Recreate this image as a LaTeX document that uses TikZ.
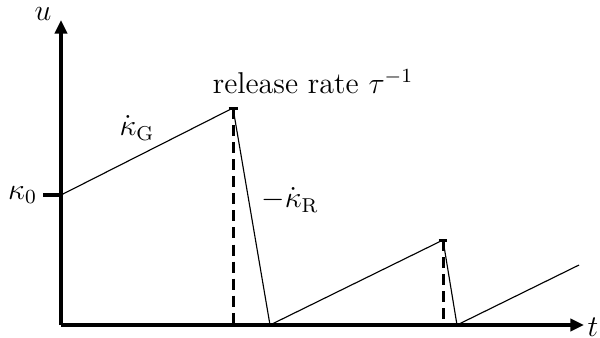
\documentclass[tikz,border=0pt]{standalone}
\usetikzlibrary{arrows.meta}
\begin{document}
\begin{tikzpicture}[x=0.014cm,y=-0.014cm,
  axis/.style={line width=1.6pt,-{Triangle[length=0.19cm,width=0.17cm]}},
  seg/.style={line width=0.45pt},
  guide/.style={line width=1.2pt,dash pattern=on 4.4pt off 2.4pt},
  tickbar/.style={line width=1.2pt},
  lab/.style={inner sep=1pt}]
\useasboundingbox (0,0) rectangle (600,337);
% points
\coordinate (O) at (61,325);
\coordinate (Ytop) at (61,20);
\coordinate (Xend) at (584,325);
\coordinate (K0) at (61,195);
\coordinate (K0l) at (43,195);
\coordinate (P1) at (233,108);
\coordinate (B1) at (233,325);
\coordinate (Q1) at (270,325);
\coordinate (P2) at (443,240);
\coordinate (B2) at (443,325);
\coordinate (Q2) at (457,325);
\coordinate (E) at (579,265);
% axes
\draw[axis] (O) -- (Ytop);
\draw[axis] (O) -- (Xend);
\node[lab] (u) at (43,14) {\large $u$};
\node[lab] (t) at (593,327) {\large $t$};
% kappa0 tick
\draw[line width=1.6pt] (K0l) -- (K0);
\node[lab,anchor=east] (k0) at (40,195) {\large $\kappa_0$};
% sawtooth
\draw[seg] (K0) -- (P1) -- (Q1) -- (P2) -- (Q2) -- (E);
% peak bars
\draw[tickbar] ([xshift=-0.06cm]P1) -- ([xshift=0.07cm]P1);
\draw[tickbar] ([xshift=-0.06cm]P2) -- ([xshift=0.06cm]P2);
% dashed guides
\draw[guide] (P1) -- (B1);
\draw[guide] (P2) -- (B2);
% labels
\node[lab] (kG) at (137,128) {\large $\dot\kappa_{\mathrm{G}}$};
\node[lab] (kR) at (290,200) {\large $-\dot\kappa_{\mathrm{R}}$};
\node[lab] (rel) at (313,82) {\large release rate $\tau^{-1}$};
\end{tikzpicture}
\end{document}
